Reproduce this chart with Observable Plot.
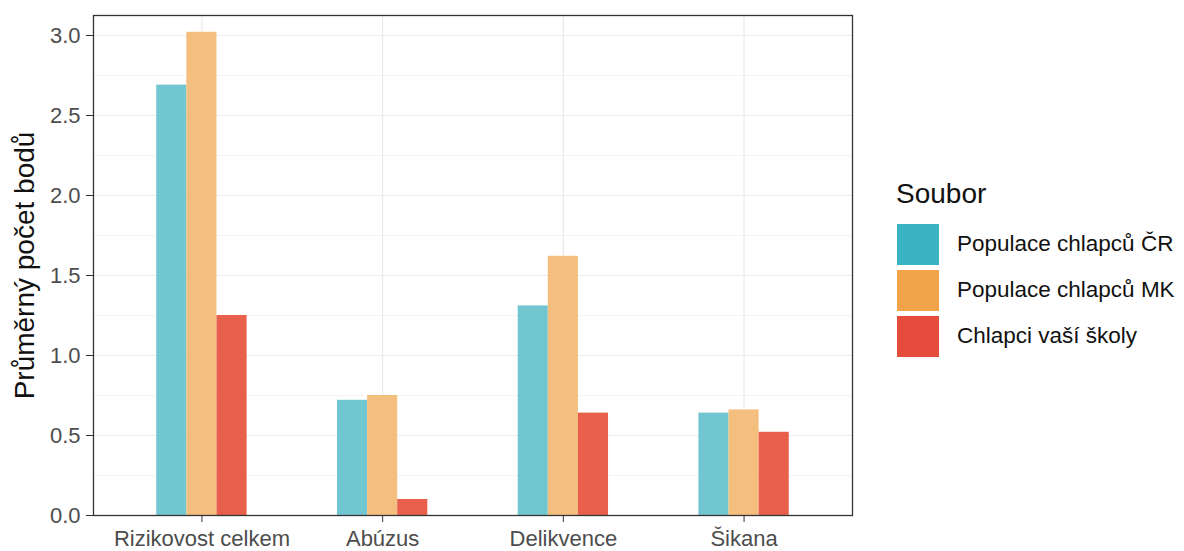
<!DOCTYPE html>
<html>
<head>
<meta charset="utf-8">
<script src="https://cdn.jsdelivr.net/npm/d3@7"></script>
<script src="https://cdn.jsdelivr.net/npm/@observablehq/plot@0.6"></script>
<style>
  html, body { margin: 0; padding: 0; background: #fff; }
  #wrap { position: relative; width: 1184px; height: 551px; font-family: "Liberation Sans", Arial, sans-serif; }
  #chart { position: absolute; left: 0; top: 0; }
  #legend { position: absolute; left: 896px; top: 176px; color: #111; }
  #legend .title { font-size: 28px; line-height: 36px; height: 45px; }
  #legend .row { display: flex; align-items: center; height: 46px; }
  #legend .sw { width: 42px; height: 41px; margin-left: 1px; margin-right: 18px; }
  #legend .lab { font-size: 22.5px; }
</style>
</head>
<body>
<div id="wrap">
  <div id="chart"></div>
  <div id="legend"></div>
</div>
<script>
const categories = ["Rizikovost celkem", "Abúzus", "Delikvence", "Šikana"];
const series = ["Populace chlapců ČR", "Populace chlapců MK", "Chlapci vaší školy"];
const valuesCR = [2.69, 0.72, 1.31, 0.64];
const valuesMK = [3.02, 0.75, 1.62, 0.66];
const valuesSkola = [1.25, 0.10, 0.64, 0.52];
const yTicks = [0, 0.5, 1.0, 1.5, 2.0, 2.5, 3.0];
const yMinorTicks = [0.25, 0.75, 1.25, 1.75, 2.25, 2.75];
const barColors = ["#72C6D1", "#F4BF7E", "#E8604C"];
const keyColors = ["#3CB3C2", "#F0A348", "#E64C3C"];
const legendTitle = "Soubor";
const yLabel = "Průměrný počet bodů";

const seriesValues = [valuesCR, valuesMK, valuesSkola];
const rows = categories.flatMap((c, i) =>
  series.map((s, j) => ({category: c, series: s, value: seriesValues[j][i]}))
);

const W = 870, H = 551;
const mL = 93, mR = 18, mT = 15, mB = 36;
const pInner = 0.5, pOuter = 0.35;
const step = (W - mL - mR) / (categories.length - pInner + 2 * pOuter);
const bw = step * (1 - pInner);
const sub = bw / series.length;

const barMarks = series.map((s, j) =>
  Plot.barY(rows.filter(d => d.series === s), {
    x: "category", y: "value", fill: "series",
    insetLeft: j * sub, insetRight: (series.length - 1 - j) * sub
  })
);

const plot = Plot.plot({
  width: W, height: H,
  marginLeft: mL, marginRight: mR, marginTop: mT, marginBottom: mB,
  style: {fontFamily: '"Liberation Sans", Arial, sans-serif', background: "#fff"},
  x: {domain: categories, paddingInner: pInner, paddingOuter: pOuter, align: 0.5, round: false, label: null},
  y: {domain: [0, 3.125], label: null},
  color: {domain: series, range: barColors},
  marks: [
    Plot.gridY(yMinorTicks, {stroke: "#f4f4f4", strokeOpacity: 1, strokeWidth: 1}),
    Plot.gridY(yTicks, {stroke: "#ebebeb", strokeOpacity: 1, strokeWidth: 1.2}),
    Plot.gridX(categories, {stroke: "#ebebeb", strokeOpacity: 1, strokeWidth: 1.2}),
    ...barMarks,
    Plot.frame({stroke: "#333", strokeWidth: 1.3}),
    Plot.axisY(yTicks, {
      tickSize: 7, tickPadding: 6, fontSize: 22, fill: "#4d4d4d", stroke: "#333",
      tickFormat: d3.format(".1f"), label: null
    }),
    Plot.axisX(categories, {
      tickSize: 7, tickPadding: 8, fontSize: 22, fill: "#4d4d4d", stroke: "#333", label: null
    }),
    Plot.text([yLabel], {
      frameAnchor: "left", rotate: -90, dx: -68, textAnchor: "middle",
      fontSize: 28, fill: "#111"
    })
  ]
});
document.getElementById("chart").appendChild(plot);

const legend = document.getElementById("legend");
const t = document.createElement("div");
t.className = "title";
t.textContent = legendTitle;
legend.appendChild(t);
series.forEach((s, j) => {
  const r = document.createElement("div");
  r.className = "row";
  const sw = document.createElement("div");
  sw.className = "sw";
  sw.style.background = keyColors[j];
  const lab = document.createElement("div");
  lab.className = "lab";
  lab.textContent = s;
  r.appendChild(sw);
  r.appendChild(lab);
  legend.appendChild(r);
});
</script>
</body>
</html>
